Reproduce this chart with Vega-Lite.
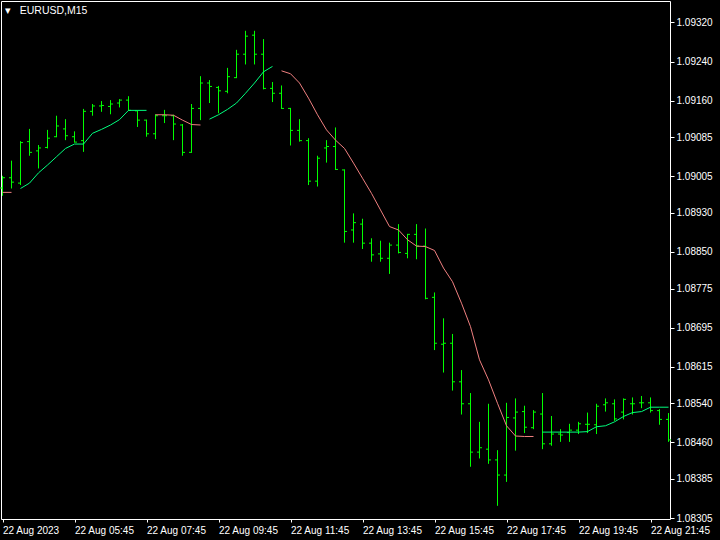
{
  "$schema": "https://vega.github.io/schema/vega-lite/v6.json",
  "width": 669,
  "height": 518,
  "autosize": {"type": "none"},
  "padding": {"left": 1, "top": 1, "right": 50, "bottom": 21},
  "background": "#000000",
  "config": {
    "view": {"stroke": "#ffffff", "strokeWidth": 1},
    "axis": {"labelColor": "#ffffff", "tickColor": "#ffffff", "labelFont": "Liberation Sans", "labelFontSize": 10, "grid": false, "domain": false, "title": null, "labelOverlap": false, "labelFlush": false},
    "axisY": {"labelOverlap": false, "labelBound": false}
  },
  "title": {"text": "▾\u00a0\u00a0\u00a0EURUSD,M15", "anchor": "start", "frame": "group", "orient": "top", "offset": -20, "baseline": "middle", "dx": 4, "color": "#ffffff", "font": "Liberation Sans", "fontSize": 10.5, "fontWeight": "normal"},
  "data": {"values": [
    {"t":"2023-08-22 03:45","o":1.08981,"h":1.09006,"l":1.08965,"c":1.09002,"ma":1.08972,"seg":"A","dir":"down"},
    {"t":"2023-08-22 04:00","o":1.09002,"h":1.09037,"l":1.08980,"c":1.08993,"ma":1.08972,"seg":"A","dir":"down"},
    {"t":"2023-08-22 04:15","o":1.08991,"h":1.09077,"l":1.08987,"c":1.09074,"ma":1.08980,"seg":"B","dir":"up"},
    {"t":"2023-08-22 04:30","o":1.09076,"h":1.09102,"l":1.09047,"c":1.09054,"ma":1.08991,"seg":"B","dir":"up"},
    {"t":"2023-08-22 04:45","o":1.09057,"h":1.09069,"l":1.09021,"c":1.09063,"ma":1.09012,"seg":"B","dir":"up"},
    {"t":"2023-08-22 05:00","o":1.09064,"h":1.09100,"l":1.09062,"c":1.09083,"ma":1.09028,"seg":"B","dir":"up"},
    {"t":"2023-08-22 05:15","o":1.09086,"h":1.09129,"l":1.09085,"c":1.09108,"ma":1.09045,"seg":"B","dir":"up"},
    {"t":"2023-08-22 05:30","o":1.09102,"h":1.09122,"l":1.09079,"c":1.09088,"ma":1.09062,"seg":"B","dir":"up"},
    {"t":"2023-08-22 05:45","o":1.09086,"h":1.09097,"l":1.09074,"c":1.09075,"ma":1.09071,"seg":"B","dir":"up"},
    {"t":"2023-08-22 06:00","o":1.09078,"h":1.09143,"l":1.09055,"c":1.09138,"ma":1.09071,"seg":"B","dir":"up"},
    {"t":"2023-08-22 06:15","o":1.09138,"h":1.09153,"l":1.09129,"c":1.09149,"ma":1.09093,"seg":"B","dir":"up"},
    {"t":"2023-08-22 06:30","o":1.09149,"h":1.09159,"l":1.09137,"c":1.09150,"ma":1.09101,"seg":"B","dir":"up"},
    {"t":"2023-08-22 06:45","o":1.09148,"h":1.09161,"l":1.09132,"c":1.09153,"ma":1.09110,"seg":"B","dir":"up"},
    {"t":"2023-08-22 07:00","o":1.09155,"h":1.09163,"l":1.09146,"c":1.09161,"ma":1.09121,"seg":"B","dir":"up"},
    {"t":"2023-08-22 07:15","o":1.09161,"h":1.09169,"l":1.09139,"c":1.09140,"ma":1.09140,"seg":"B","dir":"up"},
    {"t":"2023-08-22 07:30","o":1.09139,"h":1.09140,"l":1.09106,"c":1.09120,"ma":1.09140,"seg":"B","dir":"up"},
    {"t":"2023-08-22 07:45","o":1.09120,"h":1.09121,"l":1.09086,"c":1.09092,"ma":1.09140,"seg":"B","dir":"up"},
    {"t":"2023-08-22 08:00","o":1.09092,"h":1.09132,"l":1.09081,"c":1.09129,"ma":1.09131,"seg":"C","dir":"down"},
    {"t":"2023-08-22 08:15","o":1.09129,"h":1.09141,"l":1.09114,"c":1.09129,"ma":1.09131,"seg":"C","dir":"down"},
    {"t":"2023-08-22 08:30","o":1.09129,"h":1.09131,"l":1.09079,"c":1.09112,"ma":1.09130,"seg":"C","dir":"down"},
    {"t":"2023-08-22 08:45","o":1.09110,"h":1.09112,"l":1.09047,"c":1.09054,"ma":1.09120,"seg":"C","dir":"down"},
    {"t":"2023-08-22 09:00","o":1.09054,"h":1.09153,"l":1.09053,"c":1.09144,"ma":1.09111,"seg":"C","dir":"down"},
    {"t":"2023-08-22 09:15","o":1.09144,"h":1.09210,"l":1.09120,"c":1.09196,"ma":1.09110,"seg":"C","dir":"down"},
    {"t":"2023-08-22 09:30","o":1.09196,"h":1.09202,"l":1.09155,"c":1.09189,"ma":1.09122,"seg":"D","dir":"up"},
    {"t":"2023-08-22 09:45","o":1.09187,"h":1.09190,"l":1.09134,"c":1.09180,"ma":1.09131,"seg":"D","dir":"up"},
    {"t":"2023-08-22 10:00","o":1.09179,"h":1.09227,"l":1.09175,"c":1.09209,"ma":1.09142,"seg":"D","dir":"up"},
    {"t":"2023-08-22 10:15","o":1.09207,"h":1.09264,"l":1.09206,"c":1.09255,"ma":1.09155,"seg":"D","dir":"up"},
    {"t":"2023-08-22 10:30","o":1.09255,"h":1.09303,"l":1.09234,"c":1.09292,"ma":1.09175,"seg":"D","dir":"up"},
    {"t":"2023-08-22 10:45","o":1.09294,"h":1.09303,"l":1.09234,"c":1.09255,"ma":1.09196,"seg":"D","dir":"up"},
    {"t":"2023-08-22 11:00","o":1.09255,"h":1.09286,"l":1.09183,"c":1.09185,"ma":1.09219,"seg":"D","dir":"up"},
    {"t":"2023-08-22 11:15","o":1.09185,"h":1.09198,"l":1.09157,"c":1.09175,"ma":1.09230,"seg":"D","dir":"up"},
    {"t":"2023-08-22 11:30","o":1.09175,"h":1.09191,"l":1.09143,"c":1.09144,"ma":1.09221,"seg":"E","dir":"down"},
    {"t":"2023-08-22 11:45","o":1.09144,"h":1.09145,"l":1.09068,"c":1.09099,"ma":1.09215,"seg":"E","dir":"down"},
    {"t":"2023-08-22 12:00","o":1.09099,"h":1.09122,"l":1.09076,"c":1.09078,"ma":1.09196,"seg":"E","dir":"down"},
    {"t":"2023-08-22 12:15","o":1.09078,"h":1.09083,"l":1.08987,"c":1.08995,"ma":1.09165,"seg":"E","dir":"down"},
    {"t":"2023-08-22 12:30","o":1.08995,"h":1.09047,"l":1.08984,"c":1.09042,"ma":1.09131,"seg":"E","dir":"down"},
    {"t":"2023-08-22 12:45","o":1.09063,"h":1.09079,"l":1.09033,"c":1.09066,"ma":1.09100,"seg":"E","dir":"down"},
    {"t":"2023-08-22 13:00","o":1.09066,"h":1.09105,"l":1.09018,"c":1.09019,"ma":1.09079,"seg":"E","dir":"down"},
    {"t":"2023-08-22 13:15","o":1.09018,"h":1.09019,"l":1.08869,"c":1.08892,"ma":1.09062,"seg":"E","dir":"down"},
    {"t":"2023-08-22 13:30","o":1.08895,"h":1.08929,"l":1.08869,"c":1.08910,"ma":1.09032,"seg":"E","dir":"down"},
    {"t":"2023-08-22 13:45","o":1.08907,"h":1.08918,"l":1.08856,"c":1.08868,"ma":1.09001,"seg":"E","dir":"down"},
    {"t":"2023-08-22 14:00","o":1.08868,"h":1.08878,"l":1.08830,"c":1.08844,"ma":1.08970,"seg":"E","dir":"down"},
    {"t":"2023-08-22 14:15","o":1.08846,"h":1.08873,"l":1.08830,"c":1.08837,"ma":1.08936,"seg":"E","dir":"down"},
    {"t":"2023-08-22 14:30","o":1.08837,"h":1.08869,"l":1.08805,"c":1.08864,"ma":1.08902,"seg":"E","dir":"down"},
    {"t":"2023-08-22 14:45","o":1.08864,"h":1.08907,"l":1.08847,"c":1.08849,"ma":1.08895,"seg":"E","dir":"down"},
    {"t":"2023-08-22 15:00","o":1.08847,"h":1.08887,"l":1.08837,"c":1.08886,"ma":1.08875,"seg":"E","dir":"down"},
    {"t":"2023-08-22 15:15","o":1.08886,"h":1.08907,"l":1.08835,"c":1.08862,"ma":1.08862,"seg":"E","dir":"down"},
    {"t":"2023-08-22 15:30","o":1.08862,"h":1.08898,"l":1.08753,"c":1.08755,"ma":1.08861,"seg":"E","dir":"down"},
    {"t":"2023-08-22 15:45","o":1.08757,"h":1.08767,"l":1.08649,"c":1.08663,"ma":1.08853,"seg":"E","dir":"down"},
    {"t":"2023-08-22 16:00","o":1.08661,"h":1.08714,"l":1.08603,"c":1.08663,"ma":1.08817,"seg":"E","dir":"down"},
    {"t":"2023-08-22 16:15","o":1.08663,"h":1.08682,"l":1.08566,"c":1.08584,"ma":1.08789,"seg":"E","dir":"down"},
    {"t":"2023-08-22 16:30","o":1.08584,"h":1.08608,"l":1.08517,"c":1.08539,"ma":1.08745,"seg":"E","dir":"down"},
    {"t":"2023-08-22 16:45","o":1.08539,"h":1.08561,"l":1.08410,"c":1.08440,"ma":1.08697,"seg":"E","dir":"down"},
    {"t":"2023-08-22 17:00","o":1.08440,"h":1.08502,"l":1.08427,"c":1.08449,"ma":1.08629,"seg":"E","dir":"down"},
    {"t":"2023-08-22 17:15","o":1.08446,"h":1.08539,"l":1.08416,"c":1.08424,"ma":1.08588,"seg":"E","dir":"down"},
    {"t":"2023-08-22 17:30","o":1.08424,"h":1.08444,"l":1.08330,"c":1.08393,"ma":1.08540,"seg":"E","dir":"down"},
    {"t":"2023-08-22 17:45","o":1.08393,"h":1.08541,"l":1.08379,"c":1.08511,"ma":1.08494,"seg":"E","dir":"down"},
    {"t":"2023-08-22 18:00","o":1.08510,"h":1.08550,"l":1.08443,"c":1.08522,"ma":1.08473,"seg":"E","dir":"down"},
    {"t":"2023-08-22 18:15","o":1.08523,"h":1.08535,"l":1.08479,"c":1.08491,"ma":1.08472,"seg":"E","dir":"down"},
    {"t":"2023-08-22 18:30","o":1.08490,"h":1.08526,"l":1.08487,"c":1.08522,"ma":1.08472,"seg":"E","dir":"down"},
    {"t":"2023-08-22 18:45","o":1.08518,"h":1.08561,"l":1.08446,"c":1.08457,"ma":1.08481,"seg":"F","dir":"up"},
    {"t":"2023-08-22 19:00","o":1.08457,"h":1.08514,"l":1.08453,"c":1.08477,"ma":1.08481,"seg":"F","dir":"up"},
    {"t":"2023-08-22 19:15","o":1.08477,"h":1.08487,"l":1.08461,"c":1.08475,"ma":1.08481,"seg":"F","dir":"up"},
    {"t":"2023-08-22 19:30","o":1.08480,"h":1.08498,"l":1.08461,"c":1.08485,"ma":1.08481,"seg":"F","dir":"up"},
    {"t":"2023-08-22 19:45","o":1.08485,"h":1.08502,"l":1.08477,"c":1.08498,"ma":1.08481,"seg":"F","dir":"up"},
    {"t":"2023-08-22 20:00","o":1.08497,"h":1.08521,"l":1.08479,"c":1.08497,"ma":1.08482,"seg":"F","dir":"up"},
    {"t":"2023-08-22 20:15","o":1.08496,"h":1.08539,"l":1.08477,"c":1.08534,"ma":1.08492,"seg":"F","dir":"up"},
    {"t":"2023-08-22 20:30","o":1.08537,"h":1.08550,"l":1.08523,"c":1.08541,"ma":1.08494,"seg":"F","dir":"up"},
    {"t":"2023-08-22 20:45","o":1.08539,"h":1.08548,"l":1.08504,"c":1.08508,"ma":1.08502,"seg":"F","dir":"up"},
    {"t":"2023-08-22 21:00","o":1.08522,"h":1.08550,"l":1.08507,"c":1.08548,"ma":1.08513,"seg":"F","dir":"up"},
    {"t":"2023-08-22 21:15","o":1.08539,"h":1.08552,"l":1.08517,"c":1.08539,"ma":1.08521,"seg":"F","dir":"up"},
    {"t":"2023-08-22 21:30","o":1.08541,"h":1.08555,"l":1.08530,"c":1.08541,"ma":1.08523,"seg":"F","dir":"up"},
    {"t":"2023-08-22 21:45","o":1.08541,"h":1.08552,"l":1.08521,"c":1.08525,"ma":1.08532,"seg":"F","dir":"up"},
    {"t":"2023-08-22 22:00","o":1.08525,"h":1.08528,"l":1.08496,"c":1.08507,"ma":1.08532,"seg":"F","dir":"up"},
    {"t":"2023-08-22 22:15","o":1.08507,"h":1.08520,"l":1.08461,"c":1.08465,"ma":1.08532,"seg":"F","dir":"up"}
  ]},
  "encoding": {
    "x": {
      "field": "t", "type": "temporal",
      "scale": {"domain": [{"year": 2023, "month": 8, "date": 22, "hours": 3, "minutes": 42, "seconds": 30}, {"year": 2023, "month": 8, "date": 22, "hours": 22, "minutes": 17, "seconds": 30}], "nice": false},
      "axis": {
        "orient": "bottom",
        "values": [
          {"year": 2023, "month": 8, "date": 22, "hours": 3, "minutes": 45},
          {"year": 2023, "month": 8, "date": 22, "hours": 5, "minutes": 45},
          {"year": 2023, "month": 8, "date": 22, "hours": 7, "minutes": 45},
          {"year": 2023, "month": 8, "date": 22, "hours": 9, "minutes": 45},
          {"year": 2023, "month": 8, "date": 22, "hours": 11, "minutes": 45},
          {"year": 2023, "month": 8, "date": 22, "hours": 13, "minutes": 45},
          {"year": 2023, "month": 8, "date": 22, "hours": 15, "minutes": 45},
          {"year": 2023, "month": 8, "date": 22, "hours": 17, "minutes": 45},
          {"year": 2023, "month": 8, "date": 22, "hours": 19, "minutes": 45},
          {"year": 2023, "month": 8, "date": 22, "hours": 21, "minutes": 45}
        ],
        "labelExpr": "hours(datum.value) == 3 ? '22 Aug 2023' : timeFormat(datum.value, '%d %b %H:%M')",
        "labelAlign": "left", "labelBaseline": "top", "labelPadding": 3, "tickSize": 3,
        "labelFlush": false, "labelOverlap": false, "labelBound": false
      }
    }
  },
  "layer": [
    {
      "mark": {"type": "rule", "color": "#00ff00", "strokeWidth": 1},
      "encoding": {
        "y": {"field": "l", "type": "quantitative",
          "scale": {"domain": [1.08303, 1.09364], "zero": false, "nice": false},
          "axis": {"orient": "right", "values": [1.0932, 1.0924, 1.0916, 1.09085, 1.09005, 1.0893, 1.0885, 1.08775, 1.08695, 1.08615, 1.0854, 1.0846, 1.08385, 1.08305], "format": ".5f", "tickSize": 4, "labelPadding": 2, "labelFlush": false, "labelOverlap": false, "labelBound": false}},
        "y2": {"field": "h"}
      }
    },
    {
      "mark": {"type": "rule", "color": "#00ff00", "strokeWidth": 1, "x2Offset": -2.5},
      "encoding": {
        "y": {"field": "o", "type": "quantitative",
          "axis": {"orient": "right", "values": [1.0932, 1.0924, 1.0916, 1.09085, 1.09005, 1.0893, 1.0885, 1.08775, 1.08695, 1.08615, 1.0854, 1.0846, 1.08385, 1.08305], "format": ".5f", "tickSize": 4, "labelPadding": 2, "labelFlush": false, "labelOverlap": false, "labelBound": false}},
        "x2": {"field": "t"}
      }
    },
    {
      "mark": {"type": "rule", "color": "#00ff00", "strokeWidth": 1, "x2Offset": 2.5},
      "encoding": {
        "y": {"field": "c", "type": "quantitative",
          "axis": {"orient": "right", "values": [1.0932, 1.0924, 1.0916, 1.09085, 1.09005, 1.0893, 1.0885, 1.08775, 1.08695, 1.08615, 1.0854, 1.0846, 1.08385, 1.08305], "format": ".5f", "tickSize": 4, "labelPadding": 2, "labelFlush": false, "labelOverlap": false, "labelBound": false}},
        "x2": {"field": "t"}
      }
    },
    {
      "mark": {"type": "line", "strokeWidth": 1, "interpolate": "linear"},
      "encoding": {
        "y": {"field": "ma", "type": "quantitative",
          "axis": {"orient": "right", "values": [1.0932, 1.0924, 1.0916, 1.09085, 1.09005, 1.0893, 1.0885, 1.08775, 1.08695, 1.08615, 1.0854, 1.0846, 1.08385, 1.08305], "format": ".5f", "tickSize": 4, "labelPadding": 2, "labelFlush": false, "labelOverlap": false, "labelBound": false}},
        "detail": {"field": "seg"},
        "color": {"field": "dir", "type": "nominal", "scale": {"domain": ["up", "down"], "range": ["#00ff7f", "#f08080"]}, "legend": null}
      }
    }
  ],
  "resolve": {"scale": {"y": "shared"}}
}
